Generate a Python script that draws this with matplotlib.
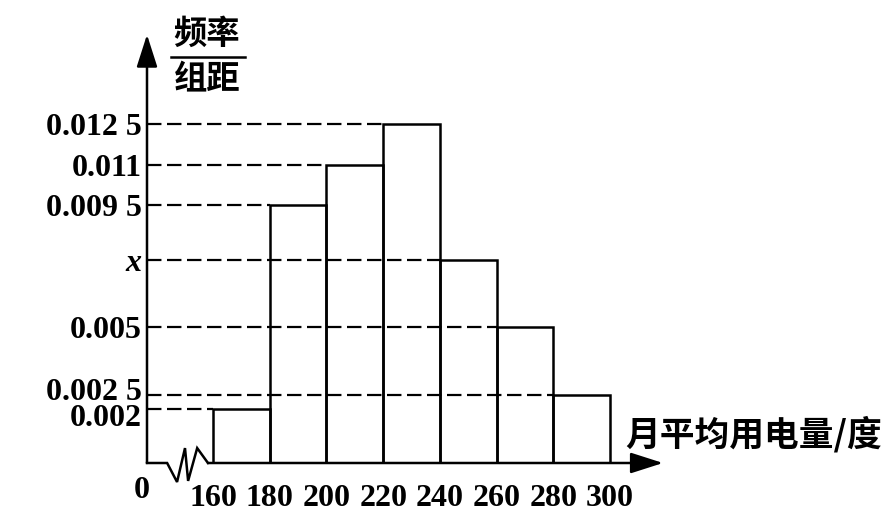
import numpy as np
import matplotlib
matplotlib.use("Agg")
import matplotlib.pyplot as plt
from matplotlib.transforms import ScaledTranslation

# histogram of monthly electricity use (frequency / class width)
edges = [160, 180, 200, 220, 240, 260, 280, 300]
heights = [0.002, 0.0095, 0.011, 0.0125, 0.0075, 0.005, 0.0025]
ytick_vals = [0.002, 0.0025, 0.005, 0.0075, 0.0095, 0.011, 0.0125]
ytick_labels = ["0.002", "0.002 5", "0.005", "x", "0.009 5", "0.011", "0.012 5"]
xtick_labels = ["160", "180", "200", "220", "240", "260", "280", "300"]

SERIF = "Liberation Serif"
CJK = ["Noto Sans CJK SC", "DejaVu Sans"]

fig = plt.figure(figsize=(8.91, 5.25), dpi=100)
ax = fig.add_axes([147 / 891, 62 / 525, 613 / 891, 433 / 525])

x0 = 136.7       # where the drawn origin sits
xmax = 352.9
ytop = 0.01597
ax.set_xlim(x0, xmax)
ax.set_ylim(0, ytop)
for s in ax.spines.values():
    s.set_visible(False)

lw = 1.8
ax.bar(edges[:-1], heights, width=20, align="edge", fill=False,
       edgecolor="black", linewidth=lw)

# dashed guide lines from the y axis to each bar's left edge
for left, h in zip(edges[:-1], heights):
    ax.plot([x0, left], [h, h], color="black", lw=1.6, dashes=(6.5, 2.5))

# axes with arrows
arrow = dict(arrowstyle="-|>,head_length=1.0,head_width=0.32", mutation_scale=20,
             color="black", lw=lw, shrinkA=0, shrinkB=0)
ax.annotate("", xy=(x0, 0.0158), xytext=(x0, 0), arrowprops=arrow,
            annotation_clip=False)
ax.annotate("", xy=(318.7, 0), xytext=(158.2, 0), arrowprops=arrow,
            annotation_clip=False)

# axis break zigzag
zx = np.array([x0, 143.8, 147.3, 150.1, 151.2, 154.4, 158.2])
zy = np.array([0, 0, -0.0007, 0.00055, -0.00066, 0.00055, 0])
ax.plot(zx, zy, color="black", lw=lw, clip_on=False, solid_joinstyle="miter")

ax.set_xticks(edges)
ax.set_xticklabels(xtick_labels, fontfamily=SERIF, fontsize=23, fontweight="bold")
ax.tick_params(axis="x", length=0, pad=15)
ax.set_yticks(ytick_vals)
ax.set_yticklabels(ytick_labels, fontfamily=SERIF, fontsize=23, fontweight="bold")
ax.tick_params(axis="y", length=0, pad=4)
for lab in ax.get_yticklabels():
    t = lab.get_text()
    if t == "x":
        lab.set_fontstyle("italic")
    # the two lowest labels sit close together, spread them a little
    if t == "0.002 5":
        lab.set_transform(lab.get_transform() + ScaledTranslation(0, 6 / 100, fig.dpi_scale_trans))
    if t == "0.002":
        lab.set_transform(lab.get_transform() + ScaledTranslation(0, -6 / 100, fig.dpi_scale_trans))

ax.annotate("0", xy=(x0, 0), xytext=(2, -9), textcoords="offset points",
            ha="right", va="top", fontfamily=SERIF, fontsize=23, fontweight="bold",
            annotation_clip=False)

# y label as a fraction
fig.text(207 / 891, 1 - 34 / 525, "频率", family=CJK, fontsize=24,
         fontweight="bold", ha="center", va="center")
fig.text(207 / 891, 1 - 80 / 525, "组距", family=CJK, fontsize=24,
         fontweight="bold", ha="center", va="center")
fig.add_artist(plt.Line2D([171 / 891, 245 / 891], [1 - 57 / 525, 1 - 57 / 525],
                          color="black", lw=1.8))

fig.text(754 / 891, 1 - 434 / 525, "月平均用电量/度", family=CJK, fontsize=25,
         fontweight="bold", ha="center", va="center")

fig.savefig("out.png", dpi=100, facecolor="white")
